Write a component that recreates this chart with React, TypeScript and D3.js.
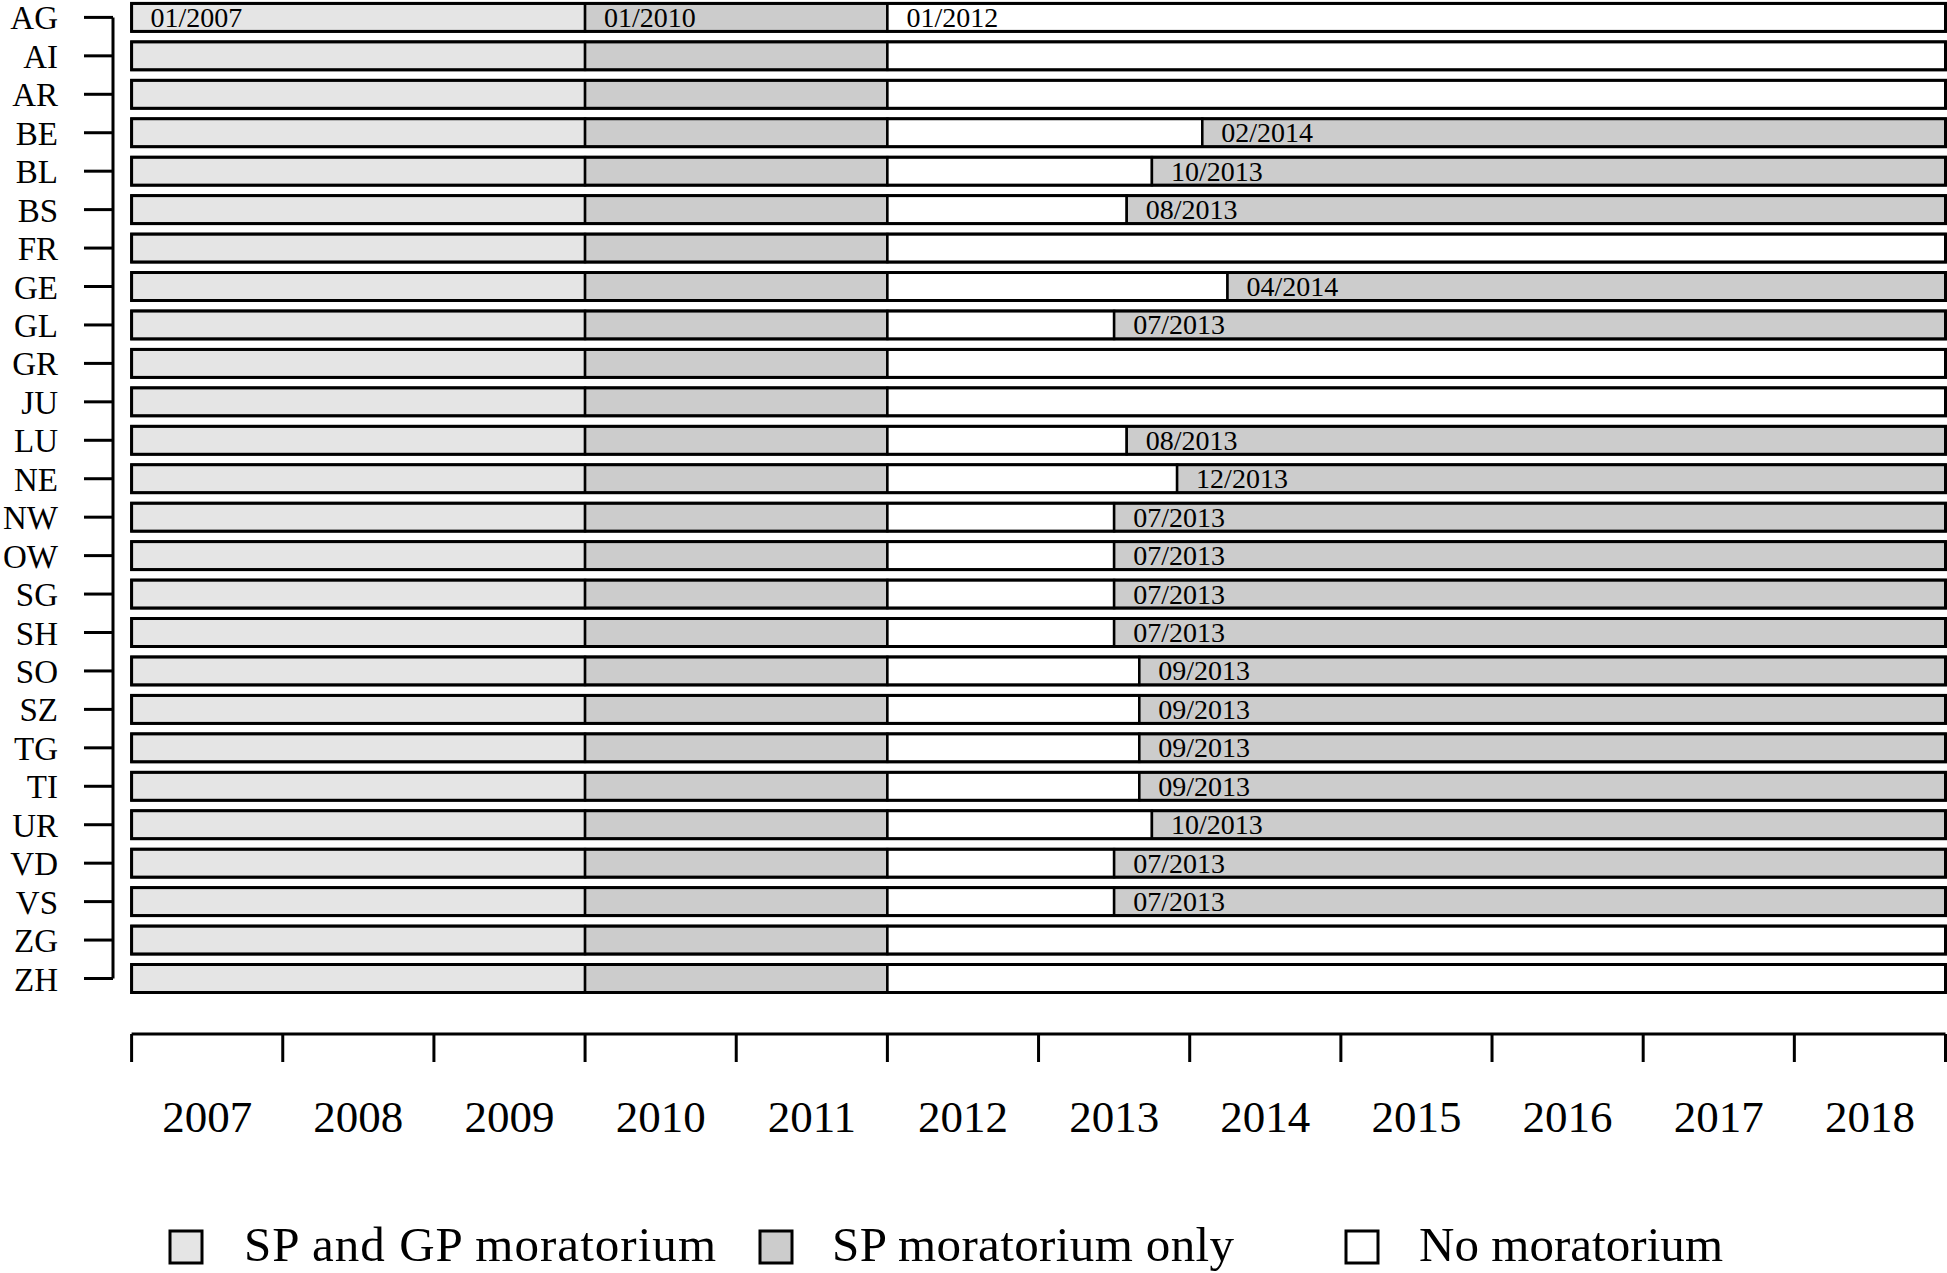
import React from "react";
import * as d3 from "d3";

const cantons = ["AG","AI","AR","BE","BL","BS","FR","GE","GL","GR","JU","LU","NE","NW","OW","SG","SH","SO","SZ","TG","TI","UR","VD","VS","ZG","ZH"];
// date from which the SP moratorium was reintroduced (null = none)
const reintroduced: (string | null)[] = [null,null,null,"02/2014","10/2013","08/2013",null,"04/2014","07/2013",null,null,"08/2013","12/2013","07/2013","07/2013","07/2013","07/2013","09/2013","09/2013","09/2013","09/2013","10/2013","07/2013","07/2013",null,null];
const phaseStarts = ["01/2007", "01/2010", "01/2012"];
const phaseNames = ["SP and GP moratorium", "SP moratorium only", "No moratorium"];
const phaseColors = ["#e5e5e5", "#cccccc", "#ffffff"];
const yearTicks = [2007,2008,2009,2010,2011,2012,2013,2014,2015,2016,2017,2018,2019];
const yearLabels = ["2007","2008","2009","2010","2011","2012","2013","2014","2015","2016","2017","2018"];
const endYear = 2019;

const parseDate = (s: string) => {
  const [m, y] = s.split("/").map(Number);
  return y + (m - 1) / 12;
};

const FONT = "'Liberation Serif', 'Times New Roman', serif";

export default function App() {
  const W = 1947, H = 1273;
  const x = d3.scaleLinear().domain([2007, endYear]).range([131.6, 1945.5]);
  const y = d3.scalePoint<string>().domain(cantons).range([17.4, 978.5]);
  const barH = 28;

  const rows = cantons.map((c, i) => {
    const segs: { x0: number; x1: number; color: string; label: string | null }[] = [];
    const starts = phaseStarts.map(parseDate);
    const re = reintroduced[i];
    const ends = [starts[1], starts[2], re ? parseDate(re) : endYear];
    for (let k = 0; k < 3; k++) {
      segs.push({ x0: starts[k], x1: ends[k], color: phaseColors[k], label: i === 0 ? phaseStarts[k] : null });
    }
    if (re) segs.push({ x0: parseDate(re), x1: endYear, color: phaseColors[1], label: re });
    return { c, segs };
  });

  const axisY = 1034;
  const legendY = 1247;
  const legendX = [{ box: 170, text: 244, w: 472 }, { box: 760, text: 832, w: 402 }, { box: 1346, text: 1419, w: 304 }];

  return (
    <svg width={W} height={H} style={{ position: "absolute", left: 0, top: 0, background: "#fff" }} fontFamily={FONT}>
      <rect x={0} y={0} width={W} height={H} fill="#fff" />
      {/* y axis */}
      <line x1={113} x2={113} y1={y(cantons[0])!} y2={y(cantons[cantons.length - 1])!} stroke="#000" strokeWidth={3} />
      {cantons.map((c) => (
        <g key={c}>
          <line x1={84} x2={113} y1={y(c)!} y2={y(c)!} stroke="#000" strokeWidth={3} />
          <text x={58} y={y(c)! + 12} textAnchor="end" fontSize={33}>{c}</text>
        </g>
      ))}
      {/* bars */}
      {rows.map((r) => {
        const cy = y(r.c)!;
        return (
          <g key={r.c}>
            {r.segs.map((s, k) => (
              <rect key={k} x={x(s.x0)} y={cy - barH / 2} width={x(s.x1) - x(s.x0)} height={barH} fill={s.color} stroke="#000" strokeWidth={2.5} />
            ))}
            <rect x={x(2007)} y={cy - barH / 2} width={x(endYear) - x(2007)} height={barH} fill="none" stroke="#000" strokeWidth={3} />
            {r.segs.filter((s) => s.label).map((s, k) => (
              <text key={"t" + k} x={x(s.x0) + 19} y={cy} dominantBaseline="central" fontSize={28}>{s.label}</text>
            ))}
          </g>
        );
      })}
      {/* x axis */}
      <line x1={x(2007)} x2={x(endYear)} y1={axisY} y2={axisY} stroke="#000" strokeWidth={3} />
      {yearTicks.map((t) => (
        <line key={t} x1={x(t)} x2={x(t)} y1={axisY} y2={axisY + 28} stroke="#000" strokeWidth={3} />
      ))}
      {yearLabels.map((l) => (
        <text key={l} x={x(+l + 0.5)} y={1132} textAnchor="middle" fontSize={45}>{l}</text>
      ))}
      {/* legend */}
      {phaseNames.map((n, k) => (
        <g key={n}>
          <rect x={legendX[k].box} y={legendY - 16} width={32} height={32} fill={phaseColors[k]} stroke="#000" strokeWidth={3} />
          <text x={legendX[k].text} y={1261} fontSize={49} textLength={legendX[k].w} lengthAdjust="spacing">{n}</text>
        </g>
      ))}
    </svg>
  );
}
